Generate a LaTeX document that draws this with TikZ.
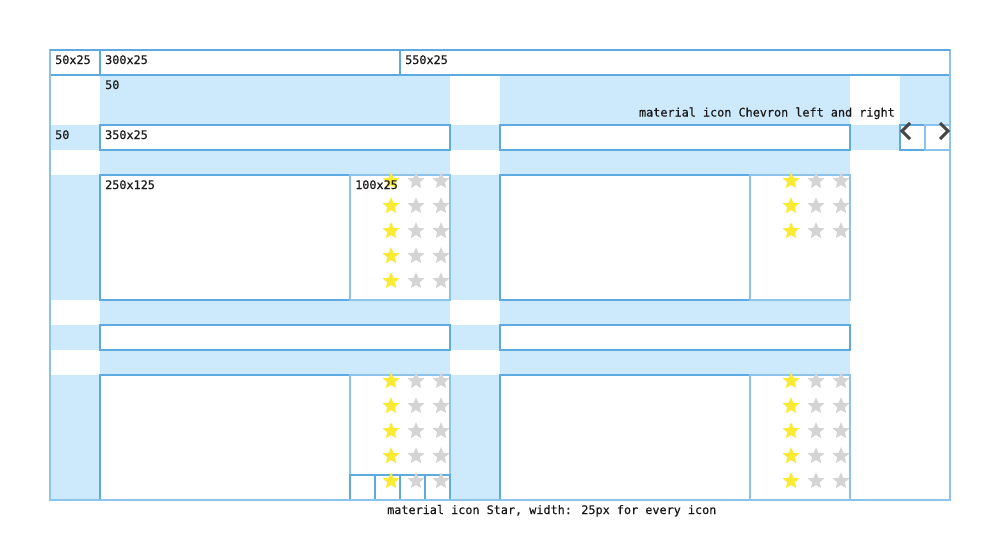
\documentclass[tikz,border=0pt]{standalone}
\usepackage{fontspec}
\newfontfamily\mymono[FakeBold=0.5]{DejaVu Sans Mono}
\usetikzlibrary{shapes.geometric}
\definecolor{fillb}{RGB}{205,234,252}
\definecolor{bordA}{RGB}{93,170,224}
\definecolor{bordB}{RGB}{140,195,235}
\definecolor{staron}{RGB}{250,234,50}
\definecolor{staroff}{RGB}{212,212,212}
\definecolor{chev}{RGB}{70,70,70}
\definecolor{txt}{RGB}{25,25,25}
\newcommand\mkbox[6]{\node[#1, minimum width=#5pt, minimum height=#6pt] (#2) at (#3,#4) {};}
\begin{document}
\begin{tikzpicture}[x=1pt,y=-1pt,
  box/.style={draw=bordA, fill=white, line width=1.5pt, inner sep=0pt, outer sep=0pt, anchor=north west},
  lbox/.style={box, draw=bordB},
  lbl/.style={font=\mymono\fontsize{11.8}{14}\selectfont, text=txt, anchor=base west, inner sep=0pt},
  staricon/.style={star, star points=5, star point ratio=2.2, minimum size=17.6pt, inner sep=0pt, outer sep=0pt, draw=none},
  staron/.style={staricon, fill=staron},
  staroff/.style={staricon, fill=staroff},
  chevron/.style={draw=chev, line width=3pt}]
\fill[white] (0,0) rectangle (1000,550);
\useasboundingbox (0,0) rectangle (1000,550);
% blue fills
\foreach \xa/\xb in {100/450,500/850}{
  \fill[fillb] (\xa,75) rectangle (\xb,125);
  \fill[fillb] (\xa,150) rectangle (\xb,175);
  \fill[fillb] (\xa,300) rectangle (\xb,325);
  \fill[fillb] (\xa,350) rectangle (\xb,375);
}
\foreach \xa in {50,450}{
  \fill[fillb] (\xa,125) rectangle (\xa+50,150);
  \fill[fillb] (\xa,175) rectangle (\xa+50,300);
  \fill[fillb] (\xa,325) rectangle (\xa+50,350);
  \fill[fillb] (\xa,375) rectangle (\xa+50,500);
}
\fill[fillb] (850,125) rectangle (900,150);
\fill[fillb] (900,75) rectangle (950,125);
% top row
\mkbox{box}{t1}{50}{50}{50}{25}
\mkbox{box}{t2}{100}{50}{300}{25}
\mkbox{box}{t3}{400}{50}{550}{25}
% left column
\mkbox{box}{l1}{100}{125}{350}{25}
\mkbox{box}{l2}{100}{175}{250}{125}
\mkbox{lbox}{l3}{350}{175}{100}{125}
\mkbox{box}{l4}{100}{325}{350}{25}
\mkbox{box}{l5}{100}{375}{250}{125}
\mkbox{lbox}{l6}{350}{375}{100}{100}
\mkbox{box}{q1}{350}{475}{25}{25}
\mkbox{box}{q2}{375}{475}{25}{25}
\mkbox{box}{q3}{400}{475}{25}{25}
\mkbox{box}{q4}{425}{475}{25}{25}
% right column
\mkbox{box}{r1}{500}{125}{350}{25}
\mkbox{box}{r2}{500}{175}{250}{125}
\mkbox{lbox}{r3}{750}{175}{100}{125}
\mkbox{box}{r4}{500}{325}{350}{25}
\mkbox{box}{r5}{500}{375}{250}{125}
\mkbox{lbox}{r6}{750}{375}{100}{125}
% chevron boxes
\mkbox{box}{c1}{900}{125}{25}{25}
\mkbox{lbox}{c2}{925}{125}{25}{25}
% outer frame
\node[lbox, fill=none, minimum width=900pt, minimum height=450pt] (frame) at (50,50) {};
\draw[bordA, line width=1.5pt] (frame.north west) -- (frame.north east);
% stars
\foreach \r in {0,...,4}{
  \node[staron] (sla\r) at (391,181+25*\r) {};
  \node[staroff] (slb\r) at (416,181+25*\r) {};
  \node[staroff] (slc\r) at (441,181+25*\r) {};
  \node[staron] (bla\r) at (391,381+25*\r) {};
  \node[staroff] (blb\r) at (416,381+25*\r) {};
  \node[staroff] (blc\r) at (441,381+25*\r) {};
  \node[staron] (bra\r) at (791,381+25*\r) {};
  \node[staroff] (brb\r) at (816,381+25*\r) {};
  \node[staroff] (brc\r) at (841,381+25*\r) {};
}
\foreach \r in {0,...,2}{
  \node[staron] (sra\r) at (791,181+25*\r) {};
  \node[staroff] (srb\r) at (816,181+25*\r) {};
  \node[staroff] (src\r) at (841,181+25*\r) {};
}
% chevrons
\draw[chevron] (910,123) -- (902,131) -- (910,139);
\draw[chevron] (940,123) -- (948,131) -- (940,139);
% labels
\node[lbl] (x1) at (55,64) {50x25};
\node[lbl] (x2) at (105,64) {300x25};
\node[lbl] (x3) at (405,64) {550x25};
\node[lbl] (x4) at (105,89) {50};
\node[lbl] (x5) at (55,139) {50};
\node[lbl] (x6) at (105,139) {350x25};
\node[lbl] (x7) at (105,189) {250x125};
\node[lbl] (x8) at (355,189) {100x25};
\node[lbl, anchor=base east] (x9) at (895,116.5) {material icon Chevron left and right};
\node[lbl] (x10) at (387,514) {material icon Star, width: 25px for every icon};
\end{tikzpicture}
\end{document}
